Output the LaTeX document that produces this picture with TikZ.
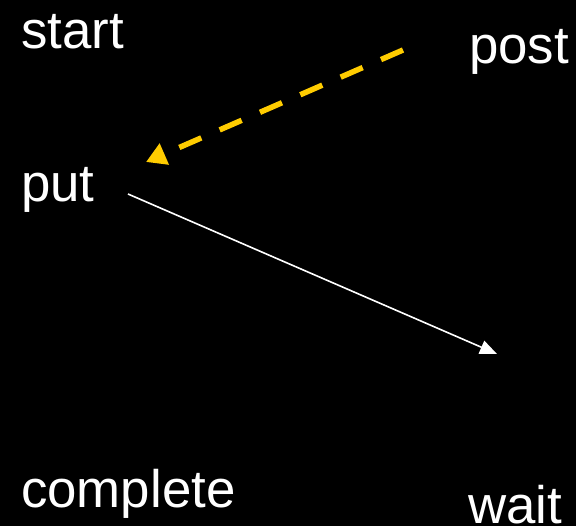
\documentclass[tikz,border=0pt]{standalone}
\usepackage{fontspec}
\setmainfont{Liberation Sans}
\usetikzlibrary{arrows.meta}
\begin{document}
\begin{tikzpicture}[x=1bp,y=-1bp,
  lbl/.style={anchor=base west,inner sep=0pt,text=white,font=\fontsize{53}{60}\selectfont},
  yel/.style={draw={rgb,255:red,255;green,204;blue,0},line width=5.5bp,dash pattern=on 24bp off 20bp,
    -{Triangle[length=20bp,width=22bp]}},
  wht/.style={draw=white,line width=1.6bp,-{Triangle[length=17bp,width=14bp]}}]
\fill[black] (0,0) rectangle (576,526);
\useasboundingbox (0,0) rectangle (576,526);
\node[lbl] (start) at (21,49) {start};
\node[lbl] (post) at (469,64) {post};
\node[lbl] (put) at (21,202) {put};
\node[lbl] (complete) at (21,507) {complete};
\node[lbl] (wait) at (468,523) {wait};
\coordinate (ys) at (403,50);
\coordinate (ye) at (146,162);
\coordinate (ws) at (128,194);
\coordinate (we) at (497,354);
\draw[yel] (ys) -- (ye);
\draw[wht] (ws) -- (we);
\end{tikzpicture}
\end{document}
